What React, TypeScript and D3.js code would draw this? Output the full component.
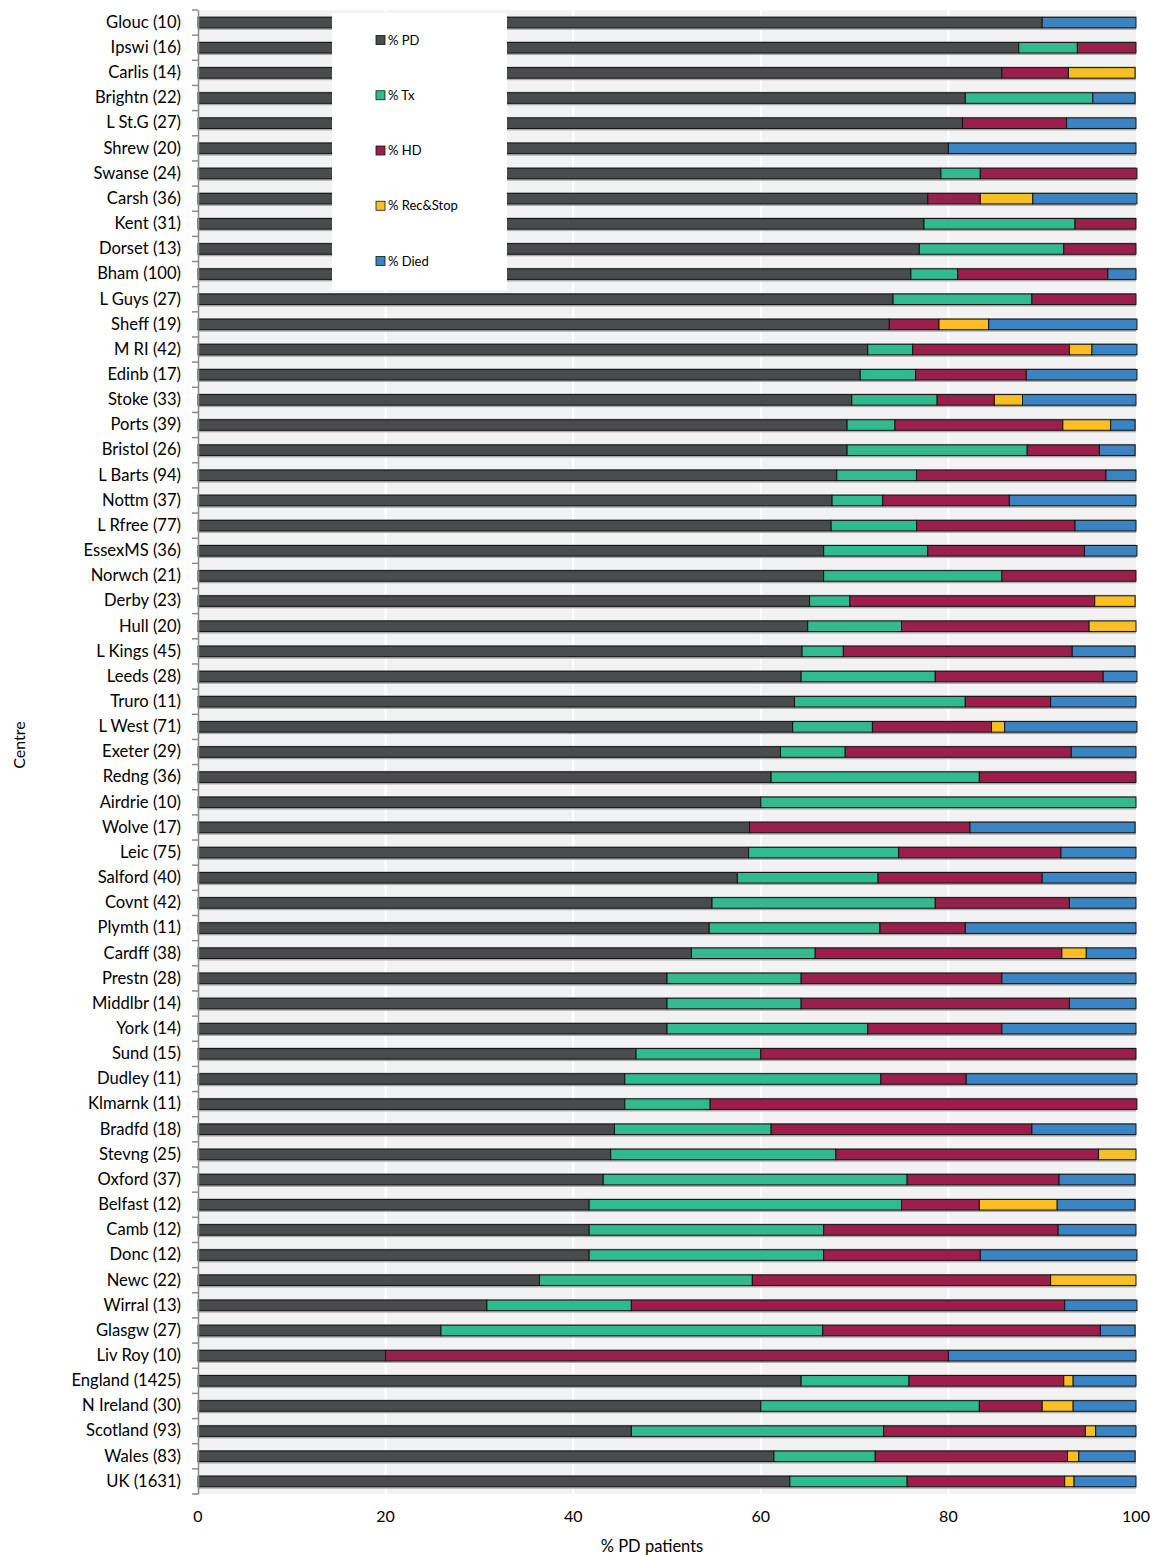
import React, { useEffect, useRef } from 'react';
import * as d3 from 'd3';

const centres = [
    "Glouc (10)", "Ipswi (16)", "Carlis (14)", "Brightn (22)", "L St.G (27)", "Shrew (20)",
    "Swanse (24)", "Carsh (36)", "Kent (31)", "Dorset (13)", "Bham (100)", "L Guys (27)",
    "Sheff (19)", "M RI (42)", "Edinb (17)", "Stoke (33)", "Ports (39)", "Bristol (26)",
    "L Barts (94)", "Nottm (37)", "L Rfree (77)", "EssexMS (36)", "Norwch (21)", "Derby (23)",
    "Hull (20)", "L Kings (45)", "Leeds (28)", "Truro (11)", "L West (71)", "Exeter (29)",
    "Redng (36)", "Airdrie (10)", "Wolve (17)", "Leic (75)", "Salford (40)", "Covnt (42)",
    "Plymth (11)", "Cardff (38)", "Prestn (28)", "Middlbr (14)", "York (14)", "Sund (15)",
    "Dudley (11)", "Klmarnk (11)", "Bradfd (18)", "Stevng (25)", "Oxford (37)", "Belfast (12)",
    "Camb (12)", "Donc (12)", "Newc (22)", "Wirral (13)", "Glasgw (27)", "Liv Roy (10)",
    "England (1425)", "N Ireland (30)", "Scotland (93)", "Wales (83)", "UK (1631)"
];

const pd = [
    90, 87.5, 85.7, 81.8, 81.5, 80, 79.2, 77.8, 77.4, 76.9, 76, 74.1,
    73.7, 71.4, 70.6, 69.7, 69.2, 69.2, 68.1, 67.6, 67.5, 66.7, 66.7, 65.2,
    65, 64.4, 64.3, 63.6, 63.4, 62.1, 61.1, 60, 58.8, 58.7, 57.5, 54.8,
    54.5, 52.6, 50, 50, 50, 46.7, 45.5, 45.5, 44.4, 44, 43.2, 41.7,
    41.7, 41.7, 36.4, 30.8, 25.9, 20, 64.3, 60, 46.2, 61.4, 63.1
];
const tx = [
    0, 6.25, 0, 13.6, 0, 0, 4.2, 0, 16.1, 15.4, 5, 14.8,
    0, 4.8, 5.9, 9.1, 5.1, 19.2, 8.5, 5.4, 9.1, 11.1, 19.0, 4.3,
    10, 4.4, 14.3, 18.2, 8.5, 6.9, 22.2, 40, 0, 16, 15, 23.8,
    18.2, 13.2, 14.3, 14.3, 21.4, 13.3, 27.3, 9.1, 16.7, 24, 32.4, 33.3,
    25, 25, 22.7, 15.4, 40.7, 0, 11.5, 23.3, 26.9, 10.8, 12.5
];
const hd = [
    0, 6.25, 7.1, 0, 11.1, 0, 16.7, 5.6, 6.5, 7.7, 16, 11.1,
    5.3, 16.7, 11.8, 6.1, 17.9, 7.7, 20.2, 13.5, 16.9, 16.7, 14.3, 26.1,
    20, 24.4, 17.9, 9.1, 12.7, 24.1, 16.7, 0, 23.5, 17.3, 17.5, 14.3,
    9.1, 26.3, 21.4, 28.6, 14.3, 40, 9.1, 45.5, 27.8, 28, 16.2, 8.3,
    25, 16.7, 31.8, 46.2, 29.6, 60, 16.5, 6.7, 21.5, 20.5, 16.8
];
const rec = [
    0, 0, 7.1, 0, 0, 0, 0, 5.6, 0, 0, 0, 0,
    5.3, 2.4, 0, 3.0, 5.1, 0, 0, 0, 0, 0, 0, 4.3,
    5, 0, 0, 0, 1.4, 0, 0, 0, 0, 0, 0, 0,
    0, 2.6, 0, 0, 0, 0, 0, 0, 0, 4, 0, 8.3,
    0, 0, 9.1, 0, 0, 0, 1.0, 3.3, 1.1, 1.2, 1.0
];
const died = [
    10, 0, 0, 4.5, 7.4, 20, 0, 11.1, 0, 0, 3, 0,
    15.8, 4.8, 11.8, 12.1, 2.6, 3.8, 3.2, 13.5, 6.5, 5.6, 0, 0,
    0, 6.7, 3.6, 9.1, 14.1, 6.9, 0, 0, 17.6, 8, 10, 7.1,
    18.2, 5.3, 14.3, 7.1, 14.3, 0, 18.2, 0, 11.1, 0, 8.1, 8.3,
    8.3, 16.7, 0, 7.7, 3.7, 20, 6.7, 6.7, 4.3, 6.0, 6.6
];

const keys = ["% PD", "% Tx", "% HD", "% Rec&Stop", "% Died"];
const colours = ["#484c4d", "#31ba8d", "#9b1f4b", "#fbbf26", "#3b84c4"];
const xTicks = [0, 20, 40, 60, 80, 100];

function BarChart() {
    const ref = useRef<SVGSVGElement>(null);

    useEffect(() => {
        const svg = d3.select(ref.current);
        svg.selectAll("*").remove();

        const width = 1154, height = 1555;
        const margin = { top: 10, right: 18, bottom: 61, left: 198 };
        const innerW = width - margin.left - margin.right;
        const innerH = height - margin.top - margin.bottom;
        const font = "Lato, 'Open Sans', sans-serif";

        const rows = centres.map((c, i) => ({
            centre: c,
            "% PD": pd[i], "% Tx": tx[i], "% HD": hd[i], "% Rec&Stop": rec[i], "% Died": died[i]
        }));
        const series = d3.stack<any>().keys(keys)(rows);

        const x = d3.scaleLinear().domain([0, 100]).range([0, innerW]);
        const y = d3.scaleBand().domain(centres).range([0, innerH]).paddingInner(0.58).paddingOuter(0.29);
        const color = d3.scaleOrdinal<string, string>().domain(keys).range(colours);

        const g = svg.append("g").attr("transform", `translate(${margin.left},${margin.top})`);

        // plot background + white grid
        g.append("rect").attr("width", innerW).attr("height", innerH).attr("fill", "#f2f2f2");
        g.selectAll(".grid").data(xTicks.slice(1, -1)).enter().append("line")
            .attr("x1", d => x(d)).attr("x2", d => x(d))
            .attr("y1", 0).attr("y2", innerH)
            .attr("stroke", "#ffffff").attr("stroke-width", 2);

        // light shadow under each bar
        g.selectAll(".shadow").data(centres).enter().append("rect")
            .attr("x", 0).attr("y", d => (y(d) as number) - 1)
            .attr("width", x(100)).attr("height", y.bandwidth() + 3)
            .attr("fill", "#a9a9a9");

        g.selectAll(".layer").data(series).enter().append("g")
            .attr("fill", d => color(d.key))
            .selectAll("rect").data(d => d.filter(s => s[1] - s[0] > 0)).enter().append("rect")
            .attr("x", d => x(d[0]))
            .attr("y", d => y(d.data.centre) as number)
            .attr("width", d => x(d[1]) - x(d[0]))
            .attr("height", y.bandwidth())
            .attr("stroke", "#141414")
            .attr("stroke-width", 1);

        // y axis
        const yAxis = g.append("g")
            .call(d3.axisLeft(y).tickSize(0).tickPadding(17));
        yAxis.select(".domain").attr("stroke", "#8a8a8a").attr("stroke-width", 1.5);
        yAxis.selectAll("text").attr("font-family", font).attr("font-size", 16.6).attr("fill", "#000");
        const step = y.step();
        g.append("g").selectAll("line").data(d3.range(centres.length + 1)).enter().append("line")
            .attr("x1", -6).attr("x2", 0)
            .attr("y1", d => d * step).attr("y2", d => d * step)
            .attr("stroke", "#8a8a8a").attr("stroke-width", 1.5);

        // x axis labels
        g.append("g").selectAll("text").data(xTicks).enter().append("text")
            .attr("x", d => x(d)).attr("y", innerH + 28)
            .attr("text-anchor", "middle")
            .attr("font-family", font).attr("font-size", 16)
            .text(d => d);

        svg.append("text")
            .attr("x", 652).attr("y", 1552)
            .attr("text-anchor", "middle")
            .attr("font-family", font).attr("font-size", 16.5)
            .text("% PD patients");

        svg.append("text")
            .attr("transform", "translate(25,745) rotate(-90)")
            .attr("text-anchor", "middle")
            .attr("font-family", font).attr("font-size", 16)
            .text("Centre");

        // legend
        const legend = svg.append("g");
        legend.append("rect")
            .attr("x", 332).attr("y", 13).attr("width", 175).attr("height", 277)
            .attr("fill", "#ffffff");
        const item = legend.selectAll(".item").data(keys).enter().append("g")
            .attr("transform", (d, i) => `translate(376,${40 + i * 55.25})`);
        item.append("rect")
            .attr("x", 0).attr("y", -4.5).attr("width", 9).attr("height", 9)
            .attr("fill", d => color(d))
            .attr("stroke", "#141414").attr("stroke-width", 0.8);
        item.append("text")
            .attr("x", 12).attr("y", 0).attr("dy", "0.35em")
            .attr("font-family", font).attr("font-size", 13)
            .text(d => d);
    }, []);

    return <svg ref={ref} width={1154} height={1555} style={{ position: "absolute", left: 0, top: 0, background: "#fff" }}></svg>;
}

export default function App() {
    return <BarChart />;
}
